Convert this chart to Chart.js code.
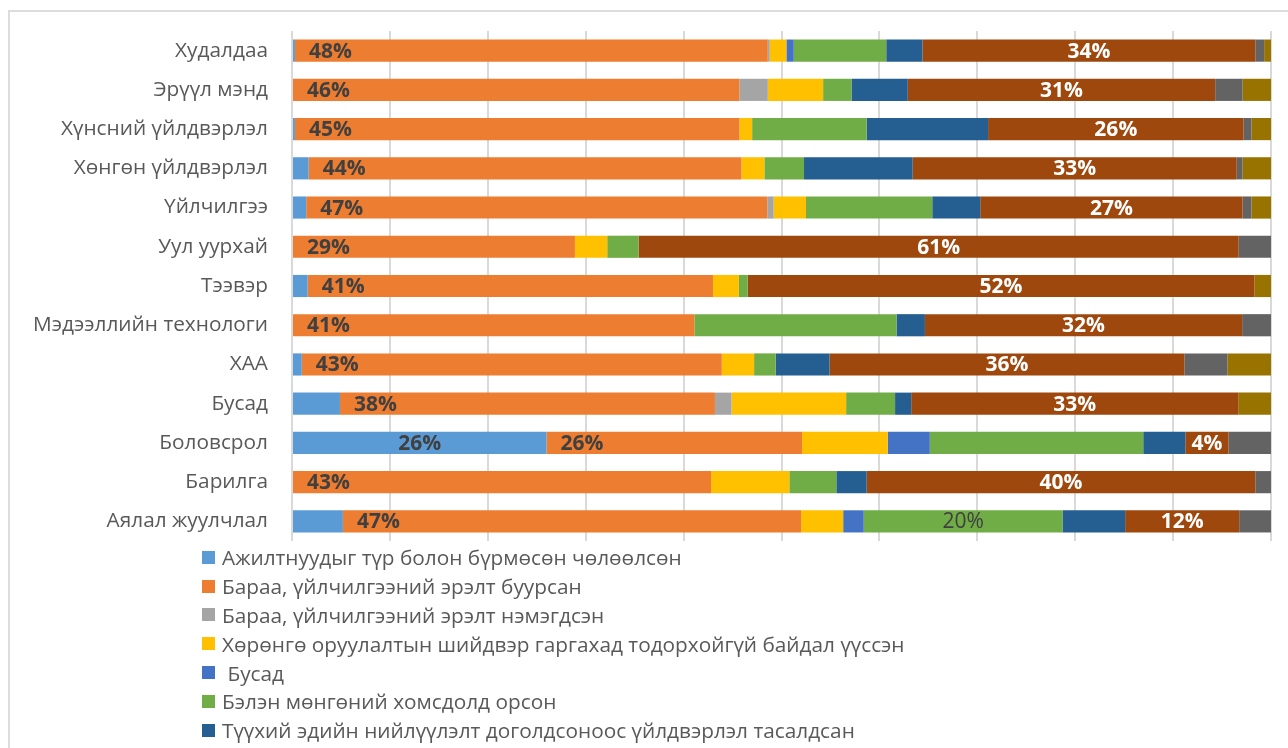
<!DOCTYPE html>
<html>
<head>
<meta charset="utf-8">
<script src="https://cdn.jsdelivr.net/npm/chart.js@4.4.1/dist/chart.umd.min.js"></script>
<style>
  html, body { margin:0; padding:0; background:#fff; width:1288px; height:748px; overflow:hidden; }
  #frame { position:absolute; left:8px; top:10px; width:1400px; height:900px; border:2px solid #dcdcdc; box-sizing:border-box; }
  #wrap { position:absolute; left:0; top:0; width:1288px; height:748px; }
  #legend { position:absolute; left:202px; top:543px; font-family: "Open Sans", "Noto Sans", sans-serif; font-size:20.8px; color:#595959; }
  .item { height:28.8px; display:flex; align-items:center; white-space:pre; }
  .box { width:13px; height:13px; margin-right:7px; flex:none; }
</style>
</head>
<body>
<div id="frame"></div>
<div id="wrap"><canvas id="c" width="1288" height="748"></canvas></div>
<div id="legend"></div>
<script>
// Categories (top to bottom)
const categories = ["Худалдаа","Эрүүл мэнд","Хүнсний үйлдвэрлэл","Хөнгөн үйлдвэрлэл","Үйлчилгээ","Уул уурхай","Тээвэр","Мэдээллийн технологи","ХАА","Бусад","Боловсрол","Барилга","Аялал жуулчлал"];

// Series names (the last three are cut off in the reference legend)
const seriesNames = [
  "Ажилтнуудыг түр болон бүрмөсөн чөлөөлсөн",
  "Бараа, үйлчилгээний эрэлт буурсан",
  "Бараа, үйлчилгээний эрэлт нэмэгдсэн",
  "Хөрөнгө оруулалтын шийдвэр гаргахад тодорхойгүй байдал үүссэн",
  " Бусад",
  "Бэлэн мөнгөний хомсдолд орсон",
  "Түүхий эдийн нийлүүлэлт доголдсоноос үйлдвэрлэл тасалдсан",
  "",
  "",
  ""
];
const visibleLegendCount = 7;

// Series values (%), one per category
const layoffs      = [0.3, 0,    0.3,  1.7,  1.45, 0,    1.6,   0,     1.0,   4.9,  26.0, 0,    5.2];
const demandDown   = [48.3,45.7, 45.4, 44.2, 47.1, 28.9, 41.4,  41.1,  42.9,  38.3, 26.1, 42.8, 46.8];
const demandUp     = [0.2, 2.9,  0,    0,    0.65, 0,    0,     0,     0,     1.7,  0,    0,    0];
const investUncert = [1.7, 5.65, 1.3,  2.35, 3.3,  3.3,  2.65,  0,     3.3,   11.7, 8.75, 8.0,  4.3];
const other        = [0.75,0,    0,    0,    0,    0,    0,     0,     0,     0,    4.3,  0,    2.1];
const cashShortage = [9.45,2.9,  11.7, 4.05, 12.9, 3.2,  0.9,   20.65, 2.2,   5.0,  21.8, 4.8,  20.3];
const supplyBreak  = [3.7, 5.75, 12.4, 11.1, 4.9,  0,    0,     2.9,   5.5,   1.65, 4.3,  3.1,  6.4];
const seriesH      = [34.0,31.4, 26.1, 33.1, 26.8, 61.3, 51.75, 32.4,  36.25, 33.4, 4.4,  39.7, 11.65];
const seriesI      = [0.9, 2.8,  0.8,  0.6,  0.9,  3.3,  0,     2.95,  4.4,   0,    4.35, 1.6,  3.25];
const seriesJ      = [0.7, 2.9,  2.0,  2.9,  2.0,  0,    1.7,   0,     4.45,  3.35, 0,    0,    0];

const seriesValues = [layoffs, demandDown, demandUp, investUncert, other, cashShortage, supplyBreak, seriesH, seriesI, seriesJ];

// X axis ticks (hidden labels, grid every 10%)
const xTicks = [0,10,20,30,40,50,60,70,80,90,100];

const colors = ["#5B9BD5","#ED7D31","#A5A5A5","#FFC000","#4472C4","#70AD47","#255E91","#9E480E","#636363","#997300"];

// Which segments carry data labels: series index -> categories
const labelled = {
  0: ["Боловсрол"],
  1: categories,
  5: ["Аялал жуулчлал"],
  7: categories
};
const labelStyle = {
  0: {mode:"center", color:"#404040", weight:"bold"},
  1: {mode:"base",   color:"#404040", weight:"bold"},
  5: {mode:"center", color:"#404040", weight:"normal"},
  7: {mode:"center", color:"#ffffff", weight:"bold"}
};

const FONT = '"Open Sans", "Noto Sans", sans-serif';

const segLabels = {
  id: "segLabels",
  afterDatasetsDraw(chart) {
    const ctx = chart.ctx;
    ctx.save();
    chart.data.datasets.forEach((ds, di) => {
      if (!labelled[di]) return;
      const st = labelStyle[di];
      const meta = chart.getDatasetMeta(di);
      meta.data.forEach((bar, i) => {
        if (!labelled[di].includes(categories[i])) return;
        const v = ds.data[i];
        const p = bar.getProps(["x","y","base"], true);
        const txt = Math.round(v) + "%";
        ctx.font = st.weight + " 21px " + FONT;
        ctx.fillStyle = st.color;
        ctx.textBaseline = "middle";
        if (st.mode === "base") {
          ctx.textAlign = "left";
          ctx.fillText(txt, Math.min(p.x, p.base) + 14, p.y + 1);
        } else {
          ctx.textAlign = "center";
          ctx.fillText(txt, (p.x + p.base) / 2, p.y + 1);
        }
      });
    });
    ctx.restore();
  }
};

const chart = new Chart(document.getElementById("c"), {
  type: "bar",
  data: {
    labels: categories,
    datasets: seriesValues.map((vals, k) => ({
      label: seriesNames[k],
      data: vals,
      backgroundColor: colors[k],
      borderWidth: 0,
      barPercentage: 1.0,
      categoryPercentage: 0.565
    }))
  },
  options: {
    indexAxis: "y",
    responsive: false,
    animation: false,
    layout: { padding: { left: 0, top: 31, right: 17, bottom: 207 } },
    plugins: { legend: { display: false }, tooltip: { enabled: false } },
    scales: {
      x: {
        stacked: true, min: 0, max: 100,
        afterBuildTicks: (s) => { s.ticks = xTicks.map(v => ({value: v})); },
        afterFit: (s) => { s.height = 0; s.paddingLeft = 0; s.paddingRight = 0; },
        ticks: { display: false },
        grid: { color: "#d9d9d9", lineWidth: 2, drawTicks: false },
        border: { display: false }
      },
      y: {
        stacked: true,
        afterFit: (s) => { s.width = 292; s.paddingTop = 0; s.paddingBottom = 0; },
        grid: { display: false, drawTicks: false },
        border: { display: false },
        ticks: { color: "#595959", padding: 24, font: { family: FONT, size: 20.8 } }
      }
    }
  },
  plugins: [segLabels]
});

// Legend (only the first entries are visible in the reference)
const lg = document.getElementById("legend");
seriesNames.slice(0, visibleLegendCount).forEach((name, k) => {
  const it = document.createElement("div"); it.className = "item";
  const b = document.createElement("span"); b.className = "box"; b.style.background = colors[k];
  const t = document.createElement("span"); t.textContent = name;
  it.appendChild(b); it.appendChild(t); lg.appendChild(it);
});
</script>
</body>
</html>
